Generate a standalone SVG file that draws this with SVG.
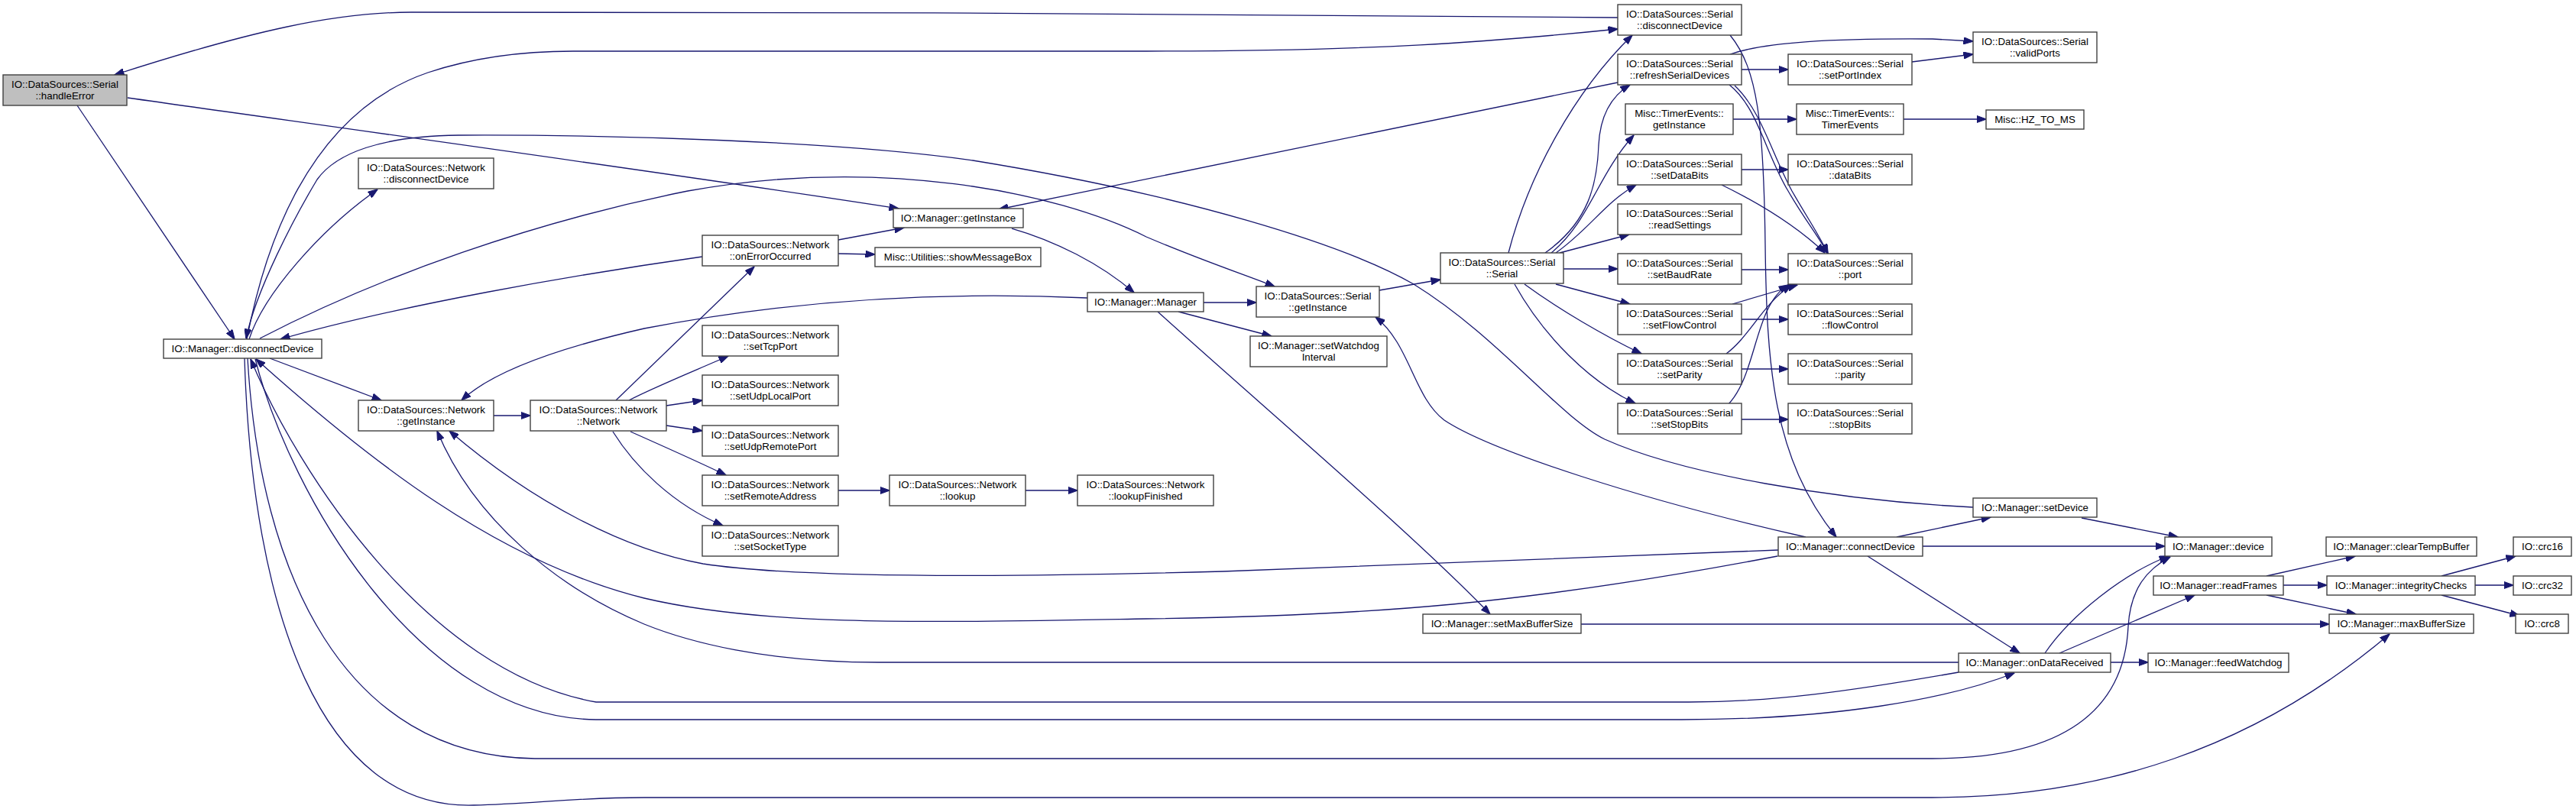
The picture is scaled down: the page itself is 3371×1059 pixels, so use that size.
<svg xmlns="http://www.w3.org/2000/svg" width="3371" height="1059" viewBox="0 0 3371 1059">
<defs>
<style>
.n rect{fill:#ffffff;stroke:#404040;stroke-width:1.4}
.n.root rect{fill:#bfbfbf}
.n text{font-family:"Liberation Sans",Arial,Helvetica,sans-serif;font-size:13.33px;text-anchor:middle;fill:#000000}
.e path{fill:none;stroke:#191970;stroke-width:1.3;marker-end:url(#a)}
</style>
<marker id="a" viewBox="0 0 13 9.4" refX="12.5" refY="4.7" markerWidth="13" markerHeight="9.4" markerUnits="userSpaceOnUse" orient="auto">
<path d="M0,0 L13,4.7 L0,9.4 z" fill="#191970" stroke="#191970" stroke-width="1"/>
</marker>
</defs>
<rect x="0" y="0" width="3371" height="1059" fill="#ffffff"/>
<g id="connectors" class="e">
<path d="M2117,23 C1800,17 1000,16 538,16 C440,16 330,40 150,98"/>
<path d="M101,138 L307,444"/>
<path d="M167,128 C500,175 900,230 1176,273"/>
<path d="M323,444 C345,330 400,150 560,95 C620,75 680,67 750,67 L1500,67 C1800,67 1950,55 2117,38"/>
<path d="M326,444 C345,385 420,300 494,248"/>
<path d="M340,443 C500,360 700,290 900,250 C1150,205 1380,250 1500,310 C1570,340 1630,360 1668,375"/>
<path d="M919,336 C750,360 520,400 367,444"/>
<path d="M2582,664 C2400,655 2200,620 2100,575 C2040,545 1960,440 1850,372 C1760,320 1550,255 1273,210 C1100,185 800,176 600,177 C500,178 440,200 415,235 C385,285 335,380 322,443"/>
<path d="M353,469 L499,524"/>
<path d="M1423,390 C1250,382 1050,390 843,430 C720,458 640,490 604,524"/>
<path d="M646,544 L694,544"/>
<path d="M806,524 L987,349"/>
<path d="M823,524 C860,505 910,485 953,466"/>
<path d="M872,531 L919,524"/>
<path d="M872,557 L919,564"/>
<path d="M825,565 C870,585 915,605 950,622"/>
<path d="M802,565 C830,610 880,660 946,688"/>
<path d="M1097,642 L1164,642"/>
<path d="M1342,642 L1410,642"/>
<path d="M1097,314 L1183,298"/>
<path d="M1097,332 L1145,333"/>
<path d="M1324,299 C1380,315 1440,345 1484,383"/>
<path d="M2117,108 L1307,274"/>
<path d="M1575,396 L1644,396"/>
<path d="M1542,408 L1664,440"/>
<path d="M1515,408 C1650,530 1850,700 1950,804"/>
<path d="M1805,380 L1885,366"/>
<path d="M1974,331 C2000,230 2060,120 2136,46"/>
<path d="M2022,331 C2080,290 2090,240 2092,190 C2094,150 2110,125 2133,111"/>
<path d="M2030,331 C2080,290 2090,230 2138,177"/>
<path d="M2036,331 C2080,300 2100,265 2141,242"/>
<path d="M2041,331 L2132,307"/>
<path d="M2046,352 L2117,352"/>
<path d="M2036,372 L2133,398"/>
<path d="M1995,372 C2040,405 2100,440 2148,463"/>
<path d="M1982,372 C2020,440 2080,500 2140,528"/>
<path d="M2264,46 C2300,90 2308,160 2310,320 C2312,480 2320,600 2403,703"/>
<path d="M2279,91 L2340,91"/>
<path d="M2264,71 C2310,55 2400,50 2529,51 L2582,54"/>
<path d="M2502,81 L2582,71"/>
<path d="M2263,111 C2300,140 2310,200 2340,250 C2360,285 2380,310 2392,332"/>
<path d="M2270,112 C2305,145 2318,200 2345,250 C2365,285 2382,310 2392,332"/>
<path d="M2268,156 L2351,156"/>
<path d="M2491,156 L2599,156"/>
<path d="M2279,222 L2340,222"/>
<path d="M2253,242 C2300,265 2350,295 2388,331"/>
<path d="M2279,353 L2340,353"/>
<path d="M2279,418 L2340,418"/>
<path d="M2267,398 L2352,373"/>
<path d="M2279,483 L2340,483"/>
<path d="M2259,463 C2290,440 2305,400 2344,373"/>
<path d="M2279,549 L2340,549"/>
<path d="M2261,530 C2300,490 2295,400 2340,373"/>
<path d="M2363,703 C2150,655 1950,590 1890,550 C1850,520 1845,450 1800,415"/>
<path d="M2482,703 L2605,677"/>
<path d="M2724,678 L2850,703"/>
<path d="M2516,715 L2833,715"/>
<path d="M2444,728 L2643,855"/>
<path d="M2327,720 C2000,732 1800,742 1600,748 C1350,755 1050,758 920,738 C820,720 700,660 588,564"/>
<path d="M2326,728 C2000,790 1800,806 1500,810 C1200,815 1000,820 843,783 C650,735 480,600 335,470"/>
<path d="M2563,867 L1150,867 C1000,867 900,840 843,817 C730,770 620,680 572,564"/>
<path d="M2563,880 C2420,905 2320,919 2210,919 L780,919 C560,880 390,620 328,470"/>
<path d="M334,470 C380,650 550,940 780,942 L2200,942 C2400,942 2550,915 2636,881"/>
<path d="M324,469 C340,750 450,990 700,993 L2528,993 C2700,993 2780,930 2785,820 C2788,770 2810,745 2840,729"/>
<path d="M320,469 C330,800 420,1060 620,1054 C700,1052 750,1044 843,1044 L2528,1044 C2750,1044 2950,980 3127,830"/>
<path d="M2676,855 C2710,805 2780,750 2838,728"/>
<path d="M2695,855 L2872,779"/>
<path d="M2762,867 L2811,867"/>
<path d="M2966,754 L3082,728"/>
<path d="M2988,766 L3045,766"/>
<path d="M2966,779 L3083,804"/>
<path d="M3195,754 L3292,728"/>
<path d="M3239,766 L3289,766"/>
<path d="M3195,779 L3297,806"/>
<path d="M2069,817 L3048,817"/>
</g>
<g id="handleError" class="n root"><rect x="4" y="98" width="162" height="40"/><text x="85" y="114.5">IO::DataSources::Serial</text><text x="85" y="129.5">::handleError</text></g>
<g id="mgr_disconnectDevice" class="n"><rect x="214" y="444" width="207" height="25"/><text x="317.5" y="461">IO::Manager::disconnectDevice</text></g>
<g id="net_disconnectDevice" class="n"><rect x="469" y="207" width="177" height="40"/><text x="557.5" y="223.5">IO::DataSources::Network</text><text x="557.5" y="238.5">::disconnectDevice</text></g>
<g id="net_getInstance" class="n"><rect x="469" y="524" width="177" height="40"/><text x="557.5" y="540.5">IO::DataSources::Network</text><text x="557.5" y="555.5">::getInstance</text></g>
<g id="net_Network" class="n"><rect x="694" y="524" width="178" height="40"/><text x="783" y="540.5">IO::DataSources::Network</text><text x="783" y="555.5">::Network</text></g>
<g id="mgr_getInstance" class="n"><rect x="1169" y="273" width="170" height="25"/><text x="1254" y="290">IO::Manager::getInstance</text></g>
<g id="net_onErrorOccurred" class="n"><rect x="919" y="308" width="178" height="40"/><text x="1008" y="324.5">IO::DataSources::Network</text><text x="1008" y="339.5">::onErrorOccurred</text></g>
<g id="showMessageBox" class="n"><rect x="1145" y="324" width="217" height="25"/><text x="1253.5" y="341">Misc::Utilities::showMessageBox</text></g>
<g id="mgr_Manager" class="n"><rect x="1423" y="383" width="152" height="25"/><text x="1499" y="400">IO::Manager::Manager</text></g>
<g id="serial_getInstance" class="n"><rect x="1644" y="375" width="161" height="40"/><text x="1724.5" y="391.5">IO::DataSources::Serial</text><text x="1724.5" y="406.5">::getInstance</text></g>
<g id="setWatchdogInterval" class="n"><rect x="1636" y="440" width="179" height="40"/><text x="1725.5" y="456.5">IO::Manager::setWatchdog</text><text x="1725.5" y="471.5">Interval</text></g>
<g id="setTcpPort" class="n"><rect x="919" y="426" width="178" height="40"/><text x="1008" y="442.5">IO::DataSources::Network</text><text x="1008" y="457.5">::setTcpPort</text></g>
<g id="setUdpLocalPort" class="n"><rect x="919" y="491" width="178" height="40"/><text x="1008" y="507.5">IO::DataSources::Network</text><text x="1008" y="522.5">::setUdpLocalPort</text></g>
<g id="setUdpRemotePort" class="n"><rect x="919" y="557" width="178" height="40"/><text x="1008" y="573.5">IO::DataSources::Network</text><text x="1008" y="588.5">::setUdpRemotePort</text></g>
<g id="setRemoteAddress" class="n"><rect x="919" y="622" width="178" height="40"/><text x="1008" y="638.5">IO::DataSources::Network</text><text x="1008" y="653.5">::setRemoteAddress</text></g>
<g id="setSocketType" class="n"><rect x="919" y="688" width="178" height="40"/><text x="1008" y="704.5">IO::DataSources::Network</text><text x="1008" y="719.5">::setSocketType</text></g>
<g id="net_lookup" class="n"><rect x="1164" y="622" width="178" height="40"/><text x="1253" y="638.5">IO::DataSources::Network</text><text x="1253" y="653.5">::lookup</text></g>
<g id="net_lookupFinished" class="n"><rect x="1410" y="622" width="178" height="40"/><text x="1499" y="638.5">IO::DataSources::Network</text><text x="1499" y="653.5">::lookupFinished</text></g>
<g id="serial_disconnectDevice" class="n"><rect x="2117" y="6" width="162" height="40"/><text x="2198" y="22.5">IO::DataSources::Serial</text><text x="2198" y="37.5">::disconnectDevice</text></g>
<g id="refreshSerialDevices" class="n"><rect x="2117" y="71" width="162" height="40"/><text x="2198" y="87.5">IO::DataSources::Serial</text><text x="2198" y="102.5">::refreshSerialDevices</text></g>
<g id="setPortIndex" class="n"><rect x="2340" y="71" width="162" height="40"/><text x="2421" y="87.5">IO::DataSources::Serial</text><text x="2421" y="102.5">::setPortIndex</text></g>
<g id="te_getInstance" class="n"><rect x="2127" y="136" width="141" height="40"/><text x="2197.5" y="152.5">Misc::TimerEvents::</text><text x="2197.5" y="167.5">getInstance</text></g>
<g id="te_TimerEvents" class="n"><rect x="2351" y="136" width="140" height="40"/><text x="2421" y="152.5">Misc::TimerEvents::</text><text x="2421" y="167.5">TimerEvents</text></g>
<g id="setDataBits" class="n"><rect x="2117" y="202" width="162" height="40"/><text x="2198" y="218.5">IO::DataSources::Serial</text><text x="2198" y="233.5">::setDataBits</text></g>
<g id="dataBits" class="n"><rect x="2340" y="202" width="162" height="40"/><text x="2421" y="218.5">IO::DataSources::Serial</text><text x="2421" y="233.5">::dataBits</text></g>
<g id="readSettings" class="n"><rect x="2117" y="267" width="162" height="40"/><text x="2198" y="283.5">IO::DataSources::Serial</text><text x="2198" y="298.5">::readSettings</text></g>
<g id="setBaudRate" class="n"><rect x="2117" y="332" width="162" height="40"/><text x="2198" y="348.5">IO::DataSources::Serial</text><text x="2198" y="363.5">::setBaudRate</text></g>
<g id="port" class="n"><rect x="2340" y="332" width="162" height="40"/><text x="2421" y="348.5">IO::DataSources::Serial</text><text x="2421" y="363.5">::port</text></g>
<g id="serial_Serial" class="n"><rect x="1885" y="331" width="161" height="40"/><text x="1965.5" y="347.5">IO::DataSources::Serial</text><text x="1965.5" y="362.5">::Serial</text></g>
<g id="setFlowControl" class="n"><rect x="2117" y="398" width="162" height="40"/><text x="2198" y="414.5">IO::DataSources::Serial</text><text x="2198" y="429.5">::setFlowControl</text></g>
<g id="flowControl" class="n"><rect x="2340" y="398" width="162" height="40"/><text x="2421" y="414.5">IO::DataSources::Serial</text><text x="2421" y="429.5">::flowControl</text></g>
<g id="setParity" class="n"><rect x="2117" y="463" width="162" height="40"/><text x="2198" y="479.5">IO::DataSources::Serial</text><text x="2198" y="494.5">::setParity</text></g>
<g id="parity" class="n"><rect x="2340" y="463" width="162" height="40"/><text x="2421" y="479.5">IO::DataSources::Serial</text><text x="2421" y="494.5">::parity</text></g>
<g id="setStopBits" class="n"><rect x="2117" y="528" width="162" height="40"/><text x="2198" y="544.5">IO::DataSources::Serial</text><text x="2198" y="559.5">::setStopBits</text></g>
<g id="stopBits" class="n"><rect x="2340" y="528" width="162" height="40"/><text x="2421" y="544.5">IO::DataSources::Serial</text><text x="2421" y="559.5">::stopBits</text></g>
<g id="validPorts" class="n"><rect x="2582" y="42" width="162" height="40"/><text x="2663" y="58.5">IO::DataSources::Serial</text><text x="2663" y="73.5">::validPorts</text></g>
<g id="HZ_TO_MS" class="n"><rect x="2599" y="144" width="128" height="25"/><text x="2663" y="161">Misc::HZ_TO_MS</text></g>
<g id="connectDevice" class="n"><rect x="2327" y="703" width="189" height="25"/><text x="2421.5" y="720">IO::Manager::connectDevice</text></g>
<g id="setMaxBufferSize" class="n"><rect x="1862" y="804" width="207" height="25"/><text x="1965.5" y="821">IO::Manager::setMaxBufferSize</text></g>
<g id="setDevice" class="n"><rect x="2582" y="652" width="162" height="25"/><text x="2663" y="669">IO::Manager::setDevice</text></g>
<g id="device" class="n"><rect x="2833" y="703" width="140" height="25"/><text x="2903" y="720">IO::Manager::device</text></g>
<g id="clearTempBuffer" class="n"><rect x="3044" y="703" width="197" height="25"/><text x="3142.5" y="720">IO::Manager::clearTempBuffer</text></g>
<g id="crc16" class="n"><rect x="3289" y="703" width="76" height="25"/><text x="3327" y="720">IO::crc16</text></g>
<g id="readFrames" class="n"><rect x="2818" y="754" width="170" height="25"/><text x="2903" y="771">IO::Manager::readFrames</text></g>
<g id="integrityChecks" class="n"><rect x="3045" y="754" width="194" height="25"/><text x="3142" y="771">IO::Manager::integrityChecks</text></g>
<g id="crc32" class="n"><rect x="3289" y="754" width="76" height="25"/><text x="3327" y="771">IO::crc32</text></g>
<g id="maxBufferSize" class="n"><rect x="3048" y="804" width="189" height="25"/><text x="3142.5" y="821">IO::Manager::maxBufferSize</text></g>
<g id="crc8" class="n"><rect x="3292" y="804" width="69" height="25"/><text x="3326.5" y="821">IO::crc8</text></g>
<g id="onDataReceived" class="n"><rect x="2563" y="855" width="199" height="25"/><text x="2662.5" y="872">IO::Manager::onDataReceived</text></g>
<g id="feedWatchdog" class="n"><rect x="2811" y="855" width="184" height="25"/><text x="2903" y="872">IO::Manager::feedWatchdog</text></g>
</svg>
